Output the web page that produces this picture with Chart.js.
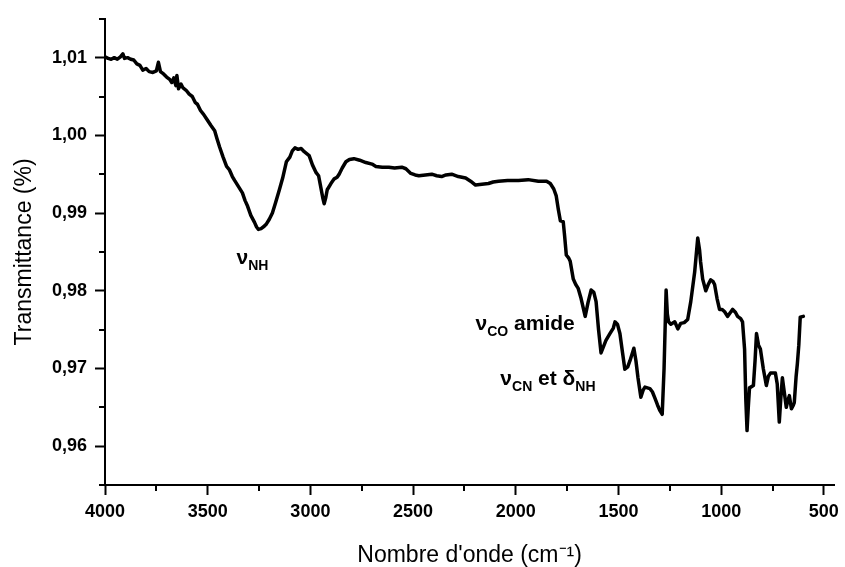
<!DOCTYPE html>
<html>
<head>
<meta charset="utf-8">
<title>Spectre IR</title>
<script src="https://cdn.jsdelivr.net/npm/chart.js@4.4.1/dist/chart.umd.min.js"></script>
<style>
  html, body { margin: 0; padding: 0; background: #fff; }
  #wrap { width: 845px; height: 567px; }
</style>
</head>
<body>
<div id="wrap"><canvas id="irChart" width="845" height="567"></canvas></div>
<script>
// Wavenumbers (cm-1)
const wavenumbers = [
  4000, 3985, 3970, 3955, 3940, 3925, 3913, 3905, 3890, 3875, 3860, 3845, 3830, 3816, 3800, 3785,
  3767, 3750, 3740, 3730, 3715, 3700, 3685, 3675, 3665, 3655, 3650, 3642, 3630, 3620, 3605, 3590,
  3575, 3560, 3550, 3535, 3520, 3505, 3485, 3466, 3455, 3442, 3425, 3408, 3395, 3380, 3369, 3350,
  3331, 3318, 3306, 3290, 3272, 3262, 3253, 3240, 3225, 3214, 3200, 3185, 3170, 3151, 3135, 3117,
  3100, 3088, 3075, 3060, 3045, 3030, 3006, 2990, 2972, 2960, 2952, 2940, 2933, 2925, 2918, 2900,
  2884, 2870, 2860, 2845, 2827, 2810, 2788, 2760, 2730, 2700, 2681, 2650, 2618, 2590, 2555, 2535,
  2511, 2490, 2472, 2440, 2409, 2385, 2361, 2340, 2312, 2280, 2244, 2220, 2196, 2165, 2133, 2110,
  2084, 2040, 1987, 1940, 1890, 1850, 1832, 1815, 1803, 1793, 1783, 1769, 1762, 1754, 1742, 1735,
  1720, 1708, 1696, 1682, 1662, 1648, 1633, 1620, 1609, 1597, 1585, 1573, 1561, 1541, 1525, 1517,
  1505, 1493, 1480, 1469, 1455, 1444, 1425, 1415, 1405, 1391, 1380, 1371, 1347, 1335, 1323, 1310,
  1299, 1287, 1278, 1268, 1262, 1256, 1245, 1226, 1211, 1197, 1180, 1163, 1148, 1129, 1114, 1105,
  1100, 1090, 1075, 1063, 1051, 1040, 1032, 1020, 1008, 995, 983, 969, 955, 944, 930, 920,
  905, 896, 886, 880, 874, 868, 862, 843, 835, 828, 818, 809, 795, 780, 770, 760,
  736, 727, 717, 710, 702, 693, 683, 676, 668, 658, 650, 644, 635, 629, 622, 615,
  600
]

// Transmittance values matching the wavenumbers above
const transmittance = [
  1.0101, 1.0099, 1.0098, 1.0100, 1.0098, 1.0101, 1.0105, 1.0099, 1.0100, 1.0098, 1.0097, 1.0092, 1.0090, 1.0084, 1.0086, 1.0082,
  1.0081, 1.0083, 1.0094, 1.0082, 1.0079, 1.0075, 1.0072, 1.0068, 1.0074, 1.0064, 1.0077, 1.0060, 1.0066, 1.0061, 1.0058, 1.0053,
  1.0050, 1.0042, 1.0040, 1.0032, 1.0027, 1.0021, 1.0013, 1.0006, 0.9996, 0.9985, 0.9972, 0.9960, 0.9956, 0.9947, 0.9942, 0.9934,
  0.9926, 0.9916, 0.9909, 0.9897, 0.9888, 0.9882, 0.9879, 0.9880, 0.9883, 0.9886, 0.9892, 0.9900, 0.9913, 0.9930, 0.9945, 0.9966,
  0.9972, 0.9980, 0.9984, 0.9982, 0.9983, 0.9979, 0.9974, 0.9962, 0.9952, 0.9948, 0.9937, 0.9920, 0.9912, 0.9920, 0.9930, 0.9938,
  0.9944, 0.9946, 0.9950, 0.9958, 0.9966, 0.9969, 0.9970, 0.9968, 0.9965, 0.9963, 0.9960, 0.9959, 0.9959, 0.9958, 0.9959, 0.9957,
  0.9951, 0.9949, 0.9948, 0.9949, 0.9950, 0.9948, 0.9947, 0.9949, 0.9950, 0.9947, 0.9945, 0.9941, 0.9936, 0.9937, 0.9938, 0.9940,
  0.9941, 0.9942, 0.9942, 0.9943, 0.9941, 0.9941, 0.9938, 0.9931, 0.9922, 0.9905, 0.9890, 0.9889, 0.9870, 0.9846, 0.9842, 0.9838,
  0.9815, 0.9808, 0.9803, 0.9790, 0.9767, 0.9785, 0.9801, 0.9798, 0.9786, 0.9750, 0.9720, 0.9728, 0.9736, 0.9745, 0.9752, 0.9760,
  0.9757, 0.9745, 0.9720, 0.9699, 0.9702, 0.9710, 0.9726, 0.9710, 0.9688, 0.9663, 0.9672, 0.9676, 0.9674, 0.9670, 0.9662, 0.9653,
  0.9646, 0.9641, 0.9700, 0.9801, 0.9770, 0.9760, 0.9757, 0.9760, 0.9751, 0.9758, 0.9759, 0.9763, 0.9786, 0.9824, 0.9868, 0.9852,
  0.9837, 0.9815, 0.9800, 0.9808, 0.9814, 0.9812, 0.9808, 0.9790, 0.9776, 0.9776, 0.9773, 0.9767, 0.9772, 0.9776, 0.9772, 0.9767,
  0.9764, 0.9760, 0.9725, 0.9660, 0.9620, 0.9650, 0.9675, 0.9678, 0.9710, 0.9745, 0.9730, 0.9725, 0.9700, 0.9678, 0.9690, 0.9694,
  0.9694, 0.9680, 0.9631, 0.9660, 0.9688, 0.9670, 0.9650, 0.9658, 0.9665, 0.9648, 0.9652, 0.9656, 0.9690, 0.9706, 0.9730, 0.9766,
  0.9767
]

// Band labels: [main text, subscript] pieces anchored in data coordinates
const bandLabels = [
  { wn: 3360, t: 0.9834, parts: [["ν", "NH"]] },
  { wn: 2196, t: 0.9749, parts: [["ν", "CO"], [" amide", ""]] },
  { wn: 2075, t: 0.9679, parts: [["ν", "CN"], [" et δ", "NH"]] },
]

// Labelled ticks and the unlabelled half-step ticks between them
const xTicks = [4000, 3500, 3000, 2500, 2000, 1500, 1000, 500]
const xMinorTicks = [3750, 3250, 2750, 2250, 1750, 1250, 750]
const yTicks = [0.96, 0.97, 0.98, 0.99, 1.00, 1.01]
const yMinorTicks = [0.955, 0.965, 0.975, 0.985, 0.995, 1.005, 1.015]

const FONT = "'Liberation Sans', Arial, Helvetica, sans-serif"

const minorTicks = {
  id: "minorTicks",
  afterDraw(chart) {
    const ctx = chart.ctx
    const x = chart.scales.x
    const y = chart.scales.y
    ctx.save()
    ctx.strokeStyle = "#000"
    ctx.lineWidth = 2
    ctx.beginPath()
    xMinorTicks.forEach((v) => {
      const px = Math.round(x.getPixelForValue(v))
      ctx.moveTo(px, y.bottom)
      ctx.lineTo(px, y.bottom + 6)
    })
    yMinorTicks.forEach((v) => {
      const py = Math.round(y.getPixelForValue(v))
      ctx.moveTo(x.left, py)
      ctx.lineTo(x.left - 6, py)
    })
    ctx.stroke()
    ctx.restore()
  },
}

const bandText = {
  id: "bandText",
  afterDatasetsDraw(chart) {
    const ctx = chart.ctx
    const x = chart.scales.x
    const y = chart.scales.y
    ctx.save()
    ctx.fillStyle = "#000"
    ctx.textBaseline = "alphabetic"
    ctx.textAlign = "left"
    bandLabels.forEach((lbl) => {
      let px = x.getPixelForValue(lbl.wn)
      const py = y.getPixelForValue(lbl.t)
      lbl.parts.forEach(([main, sub]) => {
        ctx.font = "bold 21px " + FONT
        ctx.fillText(main, px, py)
        px += ctx.measureText(main).width
        if (sub) {
          ctx.font = "bold 14px " + FONT
          ctx.fillText(sub, px, py + 6)
          px += ctx.measureText(sub).width
        }
      })
    })
    ctx.restore()
  },
}

const points = wavenumbers.map((wn, i) => ({ x: wn, y: transmittance[i] }))

new Chart(document.getElementById("irChart"), {
  type: "line",
  data: {
    datasets: [
      {
        data: points,
        borderColor: "#000",
        borderWidth: 3.5,
        borderJoinStyle: "round",
        borderCapStyle: "round",
        pointRadius: 0,
        tension: 0,
        fill: false,
      },
    ],
  },
  options: {
    responsive: false,
    animation: false,
    layout: { padding: { top: 14, right: 9, left: 0, bottom: 0 } },
    plugins: {
      legend: { display: false },
      tooltip: { enabled: false },
    },
    scales: {
      x: {
        type: "linear",
        reverse: true,
        bounds: "data",
        min: 450,
        max: 4000,
        afterBuildTicks(scale) {
          scale.ticks = xTicks.map((v) => ({ value: v }))
        },
        afterFit(scale) {
          scale.height = 82
        },
        border: { display: true, color: "#000", width: 2 },
        grid: { drawOnChartArea: false, drawTicks: true, tickLength: 10, tickColor: "#000", tickWidth: 2 },
        ticks: {
          autoSkip: false,
          color: "#000",
          padding: 6,
          maxRotation: 0,
          font: { family: FONT, size: 18, weight: "bold" },
          callback: (v) => String(v),
        },
        title: {
          display: true,
          text: "Nombre d'onde (cm⁻¹)",
          color: "#000",
          padding: { top: 0, bottom: 0 },
          font: { family: FONT, size: 23, lineHeight: 1 },
        },
      },
      y: {
        type: "linear",
        bounds: "data",
        min: 0.955,
        max: 1.015,
        afterBuildTicks(scale) {
          scale.ticks = yTicks.map((v) => ({ value: v }))
        },
        afterFit(scale) {
          scale.width = 105
        },
        border: { display: true, color: "#000", width: 2 },
        grid: { drawOnChartArea: false, drawTicks: true, tickLength: 10, tickColor: "#000", tickWidth: 2 },
        ticks: {
          autoSkip: false,
          color: "#000",
          padding: 8,
          font: { family: FONT, size: 18, weight: "bold" },
          callback: (v) => v.toFixed(2).replace(".", ","),
        },
        title: {
          display: true,
          text: "Transmittance (%)",
          color: "#000",
          padding: { top: 11, bottom: 0 },
          font: { family: FONT, size: 23 },
        },
      },
    },
  },
  plugins: [minorTicks, bandText],
})
</script>
</body>
</html>
